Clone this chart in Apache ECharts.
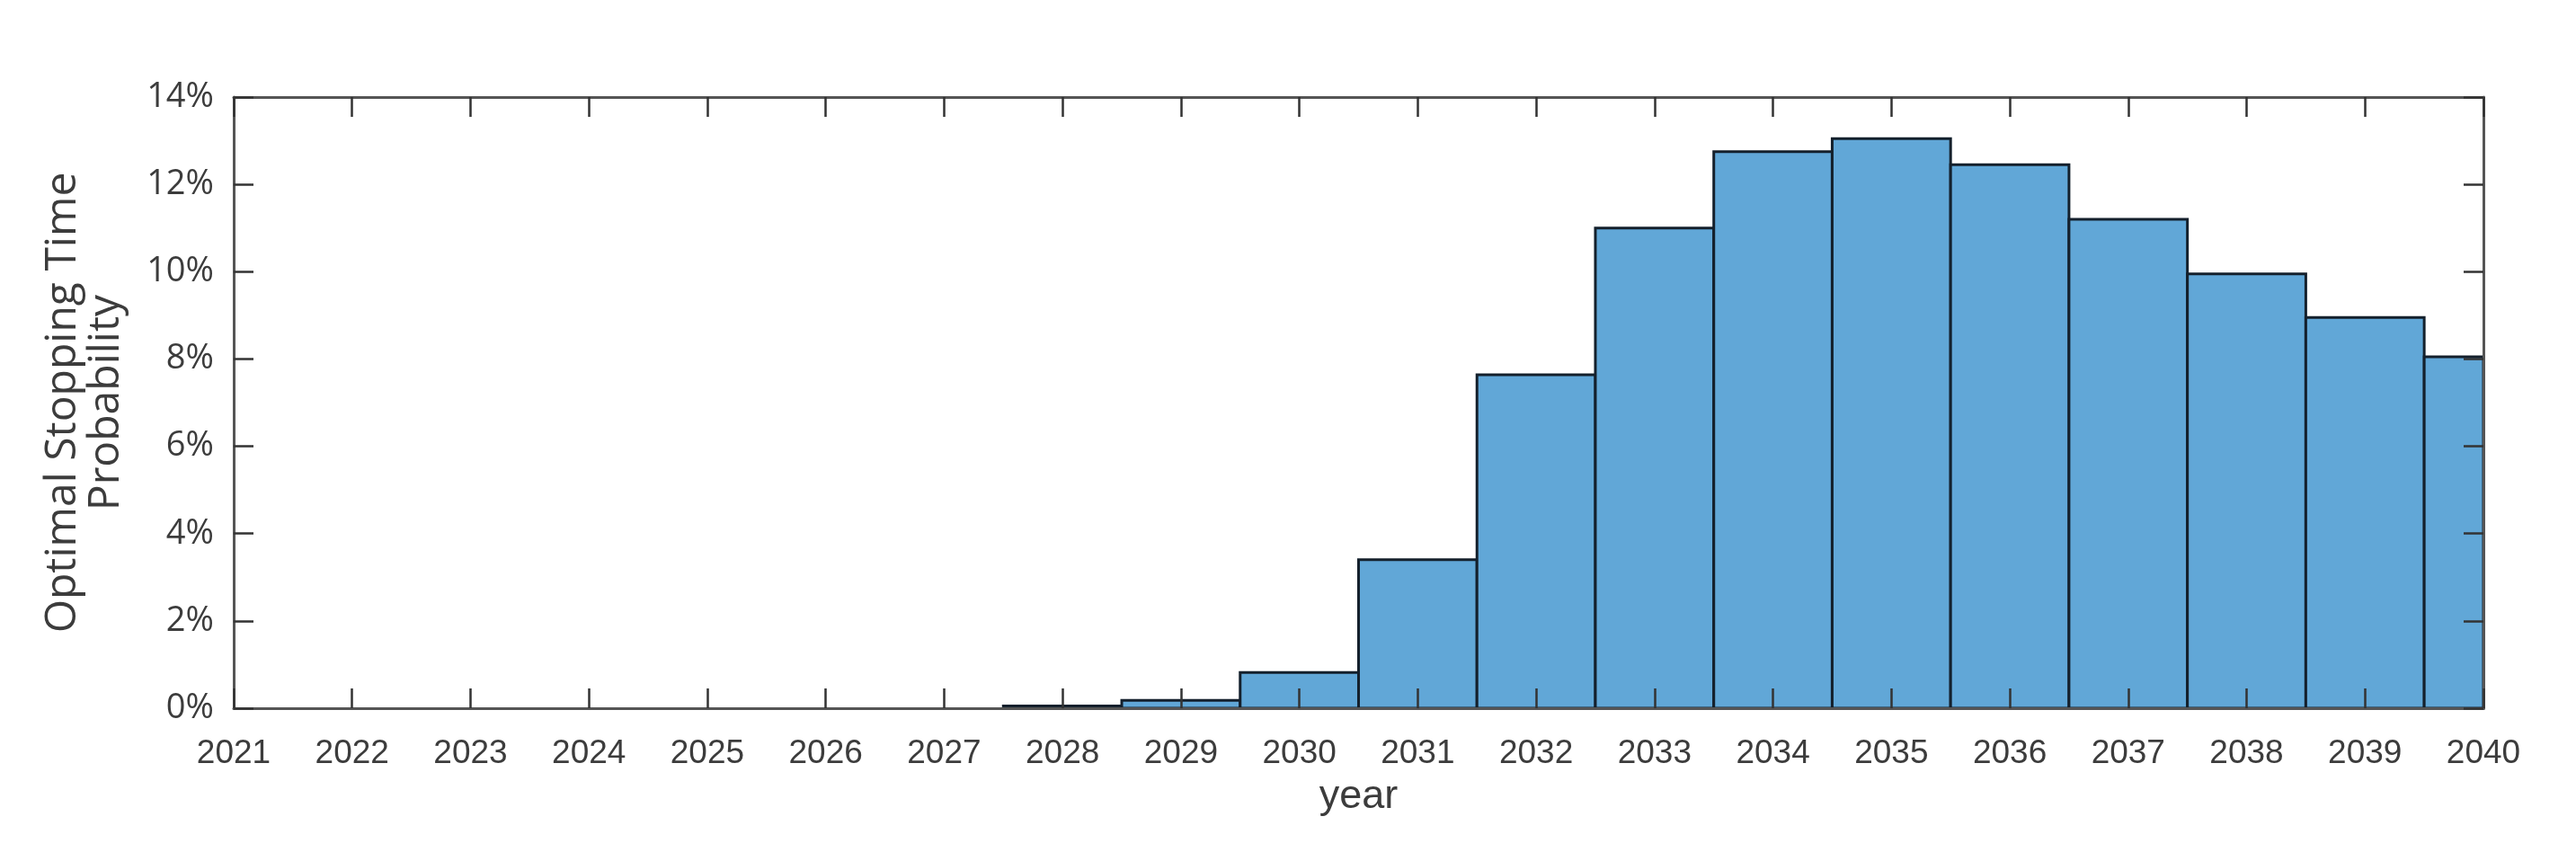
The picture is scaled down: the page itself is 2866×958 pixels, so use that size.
<!DOCTYPE html>
<html lang="en">
    <head>
        <meta charset="UTF-8">
        <script src="https://cdn.jsdelivr.net/npm/echarts@6/dist/echarts.min.js"></script>
        <title>Optimal Stopping Time</title>
        <style>
            html, body { margin: 0; padding: 0; background: #fff; }
        </style>
    </head>
    <body>
        <div id="chart" style="width: 2866px; height: 958px;"></div>
    </body>
    <script>
        // histogram bins: one per year, bar spans year-0.5 .. year+0.5
        var years = [2021, 2022, 2023, 2024, 2025, 2026, 2027, 2028, 2029, 2030,
                     2031, 2032, 2033, 2034, 2035, 2036, 2037, 2038, 2039, 2040];
        var probability = [0, 0, 0, 0, 0, 0, 0, 0.05, 0.18, 0.82,
                           3.40, 7.64, 11.0, 12.75, 13.05, 12.45, 11.2, 9.95, 8.95, 8.05];
        var yTicks = [0, 2, 4, 6, 8, 10, 12, 14];

        var barData = years.map(function (y, i) { return [y, probability[i]]; });

        var textColor = '#3c3c3c';
        var lineColor = '#555555';

        function renderBin(params, api) {
            var x = api.value(0), v = api.value(1);
            if (!(v > 0)) return null;
            var p0 = api.coord([x - 0.5, v]);
            var p1 = api.coord([x + 0.5, 0]);
            var rect = echarts.graphic.clipRectByRect(
                { x: p0[0], y: p0[1], width: p1[0] - p0[0], height: p1[1] - p0[1] },
                { x: params.coordSys.x, y: params.coordSys.y,
                  width: params.coordSys.width, height: params.coordSys.height }
            );
            return rect && { type: 'rect', shape: rect, style: api.style() };
        }

        var tickStyle = { show: true, inside: true, length: 22, lineStyle: { color: '#333', width: 2.5 } };
        var lineStyle = { show: true, onZero: false, lineStyle: { color: lineColor, width: 3 } };

        var myCharts = echarts.init(document.getElementById('chart'));
        var option = {
            backgroundColor: '#fff',
            animation: false,
            grid: { left: 260, right: 103, top: 108, bottom: 170 },
            xAxis: [
                {
                    type: 'value', position: 'bottom', z: 5,
                    min: years[0], max: years[years.length - 1], interval: 1,
                    name: 'year', nameLocation: 'middle', nameGap: 76,
                    nameTextStyle: { color: textColor, fontSize: 45, fontFamily: 'Liberation Sans' },
                    axisLine: lineStyle, axisTick: tickStyle, splitLine: { show: false },
                    axisLabel: {
                        color: textColor, fontSize: 37, fontFamily: 'Liberation Sans', margin: 32,
                        formatter: function (v) { return String(v); }
                    }
                },
                {
                    type: 'value', position: 'top', z: 5,
                    min: years[0], max: years[years.length - 1], interval: 1,
                    axisLine: lineStyle, axisTick: tickStyle, splitLine: { show: false },
                    axisLabel: { show: false }
                }
            ],
            yAxis: [
                {
                    type: 'value', position: 'left', z: 5,
                    min: yTicks[0], max: yTicks[yTicks.length - 1], interval: 2,
                    name: 'Optimal Stopping Time\nProbability', nameLocation: 'middle', nameGap: 118, nameRotate: 90,
                    nameTextStyle: { color: textColor, fontSize: 48, lineHeight: 48, fontFamily: 'Open Sans', align: 'center' },
                    axisLine: lineStyle, axisTick: tickStyle, splitLine: { show: false },
                    axisLabel: {
                        color: textColor, fontSize: 38, fontFamily: 'Open Sans', margin: 22,
                        formatter: function (v) { return v + '%'; }
                    }
                },
                {
                    type: 'value', position: 'right', z: 5,
                    min: yTicks[0], max: yTicks[yTicks.length - 1], interval: 2,
                    axisLine: lineStyle, axisTick: tickStyle, splitLine: { show: false },
                    axisLabel: { show: false }
                }
            ],
            series: [
                {
                    type: 'custom',
                    z: 1,
                    xAxisIndex: 0,
                    yAxisIndex: 0,
                    renderItem: renderBin,
                    encode: { x: 0, y: 1 },
                    itemStyle: { color: '#61a7d7', borderColor: '#14202c', borderWidth: 3 },
                    data: barData
                }
            ]
        };
        myCharts.setOption(option);
    </script>
</html>
